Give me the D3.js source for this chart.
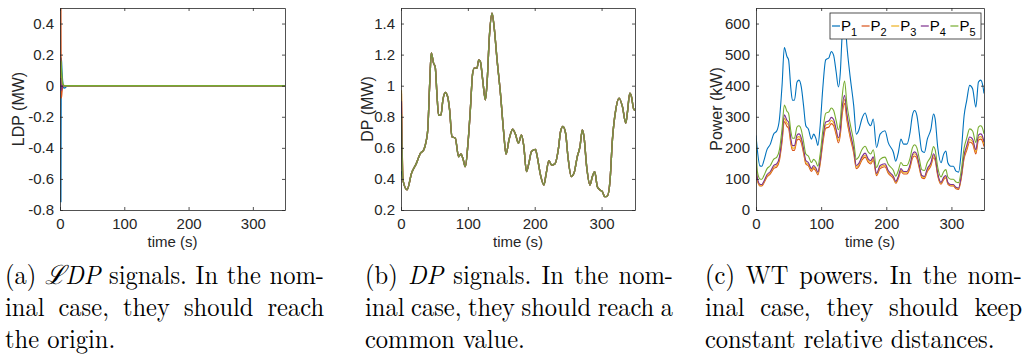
<!DOCTYPE html>
<html>
<head>
<meta charset="utf-8">
<script src="https://cdn.jsdelivr.net/npm/d3@7"></script>
<style>
  body { margin: 0; background: #fff; }
  svg { display: block; }
</style>
</head>
<body>
<div id="chart"></div>
<script>
// Matlab default line colours, one per turbine
const colors = ['#0072BD', '#D95319', '#EDB120', '#7E2F8E', '#77AC30'];
const legendLabels = ['1', '2', '3', '4', '5'];

// (a) LDP signals (MW)
const timeA = [1.3, 2, 3, 4, 5, 7, 10, 14, 350];
const ldp1 = [-0.75, 0.18, 0.09, 0.03, -0.01, -0.015, -0.005, 0, 0];
const ldp2 = [0.5, -0.08, -0.04, -0.01, 0.005, 0, 0, 0, 0];
const ldp3 = [0.1, 0.03, 0.01, 0, 0, 0, 0, 0, 0];
const ldp4 = [0.05, -0.03, -0.01, 0, 0, 0, 0, 0, 0];
const ldp5 = [0.16, 0.12, 0.06, 0.02, 0.005, 0, 0, 0, 0];

// (b) DP signals (MW): first value per series, then the common trajectory
const timeB = [0.6, 3, 9, 16, 23, 29, 34, 37.5, 40, 43, 45.3, 48.7, 51.2, 53.7, 56.2, 59.7, 62.7, 66.2, 69.7,
  72.7, 76.2, 81.2, 86.2, 89.7, 92.7, 96.2, 100.2, 103.7, 107.2, 109.7, 113.7, 116.2, 118.7, 122.2, 126.2,
  128.7, 132.2, 136.2, 139.2, 143.7, 148.7, 153.7, 157, 162, 167, 171, 175.7, 180.2, 183.7, 187.7, 191.2,
  195.2, 201.2, 203.7, 208.7, 213.7, 217.2, 221.2, 225.2, 230.2, 235.2, 238.7, 242.2, 246.2, 249.7, 254.7,
  258.7, 263.7, 267.7, 271.2, 273.7, 277.7, 282.7, 286.2, 289.7, 293.7, 297.7, 301.2, 304.7, 308.7, 312.7,
  316.2, 321.2, 326.2, 331.2, 336.2, 338.7, 342.2, 344.7, 347.7, 350];
const dpStart = [0.45, 0.95, 0.97, 0.9, 0.82];
const dpCommon = [0.39, 0.33, 0.44, 0.50, 0.565, 0.587, 0.64, 0.715, 1.02, 1.21, 1.145, 1.12, 0.95, 0.81, 0.81,
  0.909, 0.956, 0.93, 0.844, 0.672, 0.662, 0.543, 0.56, 0.53, 0.479, 0.63, 0.844, 1.08, 1.113, 1.113, 1.166,
  1.155, 1.038, 0.909, 1.016, 1.317, 1.467, 1.381, 1.166, 0.952, 0.694, 0.56, 0.66, 0.72, 0.69, 0.63, 0.683,
  0.61, 0.447, 0.50, 0.576, 0.59, 0.545, 0.425, 0.361, 0.436, 0.518, 0.49, 0.497, 0.587, 0.705, 0.737, 0.694,
  0.544, 0.415, 0.436, 0.544, 0.608, 0.715, 0.672, 0.479, 0.361, 0.415, 0.447, 0.35, 0.329, 0.318, 0.286,
  0.29, 0.393, 0.651, 0.844, 0.92, 0.865, 0.759, 0.83, 0.952, 0.93, 0.855, 0.84];

// (c) WT powers (kW)
const timeC = [0, 2, 6, 9, 12, 17, 22, 27, 32, 36, 40, 43.5, 47.5, 50, 53.5, 56, 59, 63, 66, 69.5, 73, 76.5,
  80.5, 85, 88.5, 92, 95, 98.5, 102.5, 107, 112, 115.5, 119, 123, 126.5, 129.5, 132, 136, 139.5, 144.5, 150,
  154, 157.5, 162.5, 167.5, 172.5, 176, 180, 185, 190.5, 198, 203, 211, 214.5, 218.5, 222.5, 226.5, 231.5,
  236.5, 240, 243.5, 247, 250.5, 254.5, 258.5, 263, 268.5, 272.5, 275, 279, 284, 288, 291.5, 294.5, 299, 303,
  307, 311, 315, 319.5, 323.5, 328, 332.5, 337.5, 341.5, 345, 348.5, 350];
const power1 = [240, 195, 142, 141, 158, 195, 212, 244, 255, 293, 401, 523, 494, 483, 391, 353, 353, 412, 418,
  396, 336, 271, 260, 228, 244, 230, 208, 271, 391, 483, 490, 510, 499, 445, 396, 445, 553, 630, 530, 429, 336,
  244, 255, 293, 312, 280, 271, 293, 201, 244, 255, 217, 185, 157, 185, 228, 212, 212, 250, 304, 320, 304, 250,
  190, 185, 228, 260, 309, 293, 201, 152, 179, 190, 152, 141, 141, 125, 122, 185, 304, 353, 401, 390, 331, 412,
  418, 396, 375];
const power2 = [110, 95, 77, 77, 86, 106, 116, 133, 139, 160, 219, 285, 269, 263, 213, 192, 192, 225, 228, 216,
  183, 148, 142, 124, 133, 125, 113, 148, 213, 263, 267, 278, 272, 243, 216, 243, 301, 343, 289, 234, 183, 133,
  139, 160, 170, 153, 148, 160, 110, 133, 139, 118, 101, 86, 101, 124, 116, 116, 136, 166, 174, 166, 136, 104,
  101, 124, 142, 168, 160, 110, 83, 98, 104, 83, 77, 77, 68, 66, 101, 166, 192, 219, 213, 180, 225, 228, 216, 204];
const power3 = [130, 98, 80, 80, 89, 110, 120, 138, 144, 166, 227, 295, 279, 273, 221, 199, 199, 233, 236, 224,
  190, 153, 147, 129, 138, 130, 118, 153, 221, 273, 277, 288, 282, 251, 224, 251, 312, 356, 299, 242, 190, 138,
  144, 166, 176, 158, 153, 166, 114, 138, 144, 123, 105, 89, 105, 129, 120, 120, 141, 172, 181, 172, 141, 107,
  105, 129, 147, 175, 166, 114, 86, 101, 107, 86, 80, 80, 71, 69, 105, 172, 199, 227, 220, 187, 233, 236, 224, 212];
const power4 = [170, 105, 83, 82, 92, 114, 124, 143, 149, 171, 235, 306, 289, 283, 229, 207, 207, 241, 245, 232,
  197, 159, 152, 133, 143, 135, 122, 159, 229, 283, 287, 298, 292, 260, 232, 260, 324, 369, 310, 251, 197, 143,
  149, 171, 183, 164, 159, 171, 118, 143, 149, 127, 108, 92, 108, 133, 124, 124, 146, 178, 187, 178, 146, 111,
  108, 133, 152, 181, 171, 118, 89, 105, 111, 89, 82, 82, 73, 71, 108, 178, 207, 235, 228, 194, 241, 245, 232, 219];
const power5 = [225, 125, 100, 99, 110, 133, 143, 163, 170, 194, 261, 338, 318, 311, 254, 231, 231, 267, 271,
  258, 220, 180, 173, 153, 163, 155, 141, 180, 254, 311, 316, 328, 321, 288, 258, 288, 358, 415, 341, 278, 220,
  163, 170, 194, 205, 186, 180, 194, 137, 163, 170, 147, 127, 109, 127, 153, 143, 143, 167, 200, 210, 200, 167,
  130, 127, 153, 173, 204, 194, 137, 106, 123, 130, 106, 99, 99, 90, 88, 127, 200, 231, 261, 254, 217, 267, 271,
  258, 245];

const xTicks = [0, 100, 200, 300];
const yTicksA = [-0.8, -0.6, -0.4, -0.2, 0, 0.2, 0.4];
const yTicksB = [0.2, 0.4, 0.6, 0.8, 1, 1.2, 1.4];
const yTicksC = [0, 100, 200, 300, 400, 500, 600];

// captions: justified lines are word lists, '*' marks an italic word
const captionA = [['(a)', '*ℒDP', 'signals.', 'In', 'the', 'nom-'], ['inal', 'case,', 'they', 'should', 'reach'], 'the origin.'];
const captionB = [['(b)', '*DP', 'signals.', 'In', 'the', 'nom-'], ['inal', 'case,', 'they', 'should', 'reach', 'a'], 'common value.'];
const captionC = [['(c)', 'WT', 'powers.', 'In', 'the', 'nom-'], ['inal', 'case,', 'they', 'should', 'keep'], 'constant relative distances.'];

const W = 1027, H = 354;
const axisColor = '#262626';
const sansFont = '"Liberation Sans", Arial, Helvetica, sans-serif';
const serifFont = '"Latin Modern Roman", "CMU Serif", "Liberation Serif", "DejaVu Serif", serif';
const captionSize = 24.5;
const captionStretch = 1.08;

const svg = d3.select('#chart').append('svg')
  .attr('width', W)
  .attr('height', H);

function zip(t, v) {
  return t.map((d, i) => ({ t: d, v: v[i] }));
}

function drawPanel(cfg) {
  const x = d3.scaleLinear().domain([0, 350]).range([cfg.left, cfg.right]);
  const y = d3.scaleLinear().domain(cfg.yDomain).range([cfg.bottom, cfg.top]);
  const g = svg.append('g');

  g.append('clipPath').attr('id', cfg.id)
    .append('rect')
    .attr('x', cfg.left).attr('y', cfg.top)
    .attr('width', cfg.right - cfg.left).attr('height', cfg.bottom - cfg.top);

  const line = d3.line()
    .x(d => x(d.t))
    .y(d => y(d.v))
    .curve(d3.curveMonotoneX);

  const lines = g.append('g').attr('clip-path', `url(#${cfg.id})`);
  cfg.series.forEach((s, i) => {
    lines.append('path')
      .datum(s)
      .attr('fill', 'none')
      .attr('stroke', colors[i])
      .attr('stroke-width', cfg.lineWidth || 1.2)
      .attr('stroke-linejoin', 'round')
      .attr('stroke-opacity', i === 4 ? (cfg.topOpacity || 1) : 1)
      .attr('d', line);
  });

  // Matlab style box with inward ticks on all four sides
  const bottomAxis = d3.axisBottom(x).tickValues(xTicks).tickSizeInner(-3).tickSizeOuter(0).tickPadding(8);
  const topAxis = d3.axisTop(x).tickValues(xTicks).tickSizeInner(-3).tickSizeOuter(0).tickFormat('');
  const leftAxis = d3.axisLeft(y).tickValues(cfg.yTicks).tickSizeInner(-3).tickSizeOuter(0).tickPadding(6)
    .tickFormat(d => String(+d.toFixed(1)));
  const rightAxis = d3.axisRight(y).tickValues(cfg.yTicks).tickSizeInner(-3).tickSizeOuter(0).tickFormat('');

  const axes = [
    g.append('g').attr('transform', `translate(0,${cfg.bottom})`).call(bottomAxis),
    g.append('g').attr('transform', `translate(0,${cfg.top})`).call(topAxis),
    g.append('g').attr('transform', `translate(${cfg.left},0)`).call(leftAxis),
    g.append('g').attr('transform', `translate(${cfg.right},0)`).call(rightAxis)
  ];
  axes.forEach(a => {
    a.select('.domain').attr('stroke', axisColor).attr('stroke-width', 0.8);
    a.selectAll('.tick line').attr('stroke', axisColor).attr('stroke-width', 0.8);
    a.selectAll('.tick text')
      .attr('fill', axisColor)
      .style('font-family', sansFont)
      .style('font-size', '15px');
  });

  g.append('text')
    .attr('x', (cfg.left + cfg.right) / 2)
    .attr('y', 247)
    .attr('text-anchor', 'middle')
    .attr('fill', axisColor)
    .style('font-family', sansFont)
    .style('font-size', '15px')
    .text('time (s)');

  g.append('text')
    .attr('transform', `translate(${cfg.labelX},${(cfg.top + cfg.bottom) / 2}) rotate(-90)`)
    .attr('text-anchor', 'middle')
    .attr('fill', axisColor)
    .style('font-family', sansFont)
    .style('font-size', '16px')
    .text(cfg.yLabel);

  return { x, y, g };
}

drawPanel({
  id: 'clipA', left: 60, right: 285, top: 8, bottom: 210, labelX: 24,
  yDomain: [-0.8, 0.5], yTicks: yTicksA, yLabel: 'LDP (MW)', lineWidth: 1.4,
  series: [ldp1, ldp2, ldp3, ldp4, ldp5].map(v => zip(timeA, v))
});

drawPanel({
  id: 'clipB', left: 401, right: 635, top: 8, bottom: 210, labelX: 373,
  yDomain: [0.2, 1.5], yTicks: yTicksB, yLabel: 'DP (MW)', lineWidth: 1.4, topOpacity: 0.8,
  series: dpStart.map(s => zip(timeB, [s].concat(dpCommon)))
});

const panelC = drawPanel({
  id: 'clipC', left: 756, right: 984, top: 8, bottom: 210, labelX: 722,
  yDomain: [0, 650], yTicks: yTicksC, yLabel: 'Power (kW)', lineWidth: 1.1,
  series: [power1, power2, power3, power4, power5].map(v => zip(timeC, v))
});

// legend of panel (c)
const legend = panelC.g.append('g').attr('transform', 'translate(830,13)');
legend.append('rect')
  .attr('width', 151).attr('height', 26)
  .attr('fill', '#fff')
  .attr('stroke', axisColor)
  .attr('stroke-width', 0.8);
legendLabels.forEach((lab, i) => {
  const e = legend.append('g').attr('transform', `translate(${2 + i * 29.6},0)`);
  e.append('line')
    .attr('x1', 0).attr('x2', 8)
    .attr('y1', 13).attr('y2', 13)
    .attr('stroke', colors[i])
    .attr('stroke-width', 1.2);
  const t = e.append('text')
    .attr('x', 9).attr('y', 18)
    .attr('fill', '#000')
    .style('font-family', sansFont)
    .style('font-size', '15px');
  t.append('tspan').text('P');
  t.append('tspan').attr('dy', 5).style('font-size', '11px').text(lab);
});

// captions, justified like the LaTeX source
function captionText(xp, yb) {
  return svg.append('text')
    .attr('transform', `translate(${xp},${yb}) scale(1,${captionStretch})`)
    .attr('fill', '#000')
    .style('font-family', serifFont)
    .style('font-size', captionSize + 'px');
}

function drawCaption(lines, x0, x1) {
  const baselines = [284, 316, 348];
  lines.forEach((ln, li) => {
    const yb = baselines[li];
    if (typeof ln === 'string') {
      captionText(x0, yb).text(ln);
      return;
    }
    const nodes = ln.map(w => {
      const italic = w.startsWith('*');
      return captionText(0, yb)
        .style('font-style', italic ? 'italic' : 'normal')
        .text(italic ? w.slice(1) : w);
    });
    const widths = nodes.map(n => n.node().getComputedTextLength());
    const gap = (x1 - x0 - d3.sum(widths)) / (nodes.length - 1);
    let cx = x0;
    nodes.forEach((n, i) => {
      n.attr('transform', `translate(${cx},${yb}) scale(1,${captionStretch})`);
      cx += widths[i] + gap;
    });
  });
}

drawCaption(captionA, 5, 324);
drawCaption(captionB, 365, 673);
drawCaption(captionC, 705, 1022);
</script>
</body>
</html>
